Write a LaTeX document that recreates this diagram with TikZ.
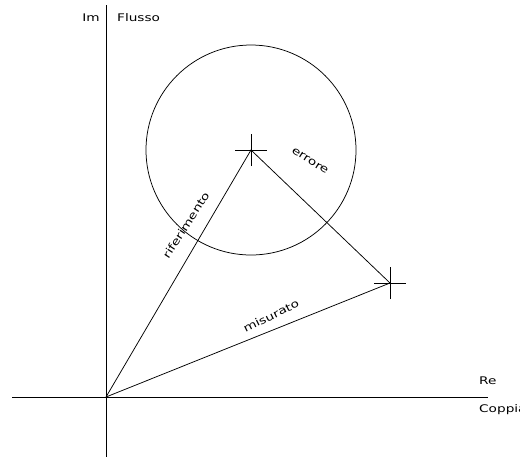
\documentclass[tikz,border=0pt]{standalone}
\usepackage{fontspec}
\newfontfamily\cad[FakeStretch=1.3]{DejaVu Sans}
\begin{document}
\begin{tikzpicture}[x=1pt,y=-1pt,
  ln/.style={line width=0.75pt,black},
  lbl/.style={font=\cad\fontsize{10.5}{12}\selectfont,inner sep=0pt}]
\useasboundingbox (0,0) rectangle (520,459);
% axes
\coordinate (O) at (106,397);
\coordinate (xl) at (12,397);
\coordinate (xr) at (488,397);
\coordinate (yt) at (106,5);
\coordinate (yb) at (106,457);
\draw[ln] (xl) -- (xr);
\draw[ln] (yt) -- (yb);
% points
\coordinate (R) at (251,150);
\coordinate (M) at (390,283);
\draw[ln] (R) circle[radius=105];
\draw[ln] (O) -- (R) -- (M) -- (O);
% crosses
\draw[ln] ([xshift=-16]R) -- ([xshift=16]R);
\draw[ln] ([yshift=-16]R) -- ([yshift=16]R);
\draw[ln] ([xshift=-16]M) -- ([xshift=16]M);
\draw[ln] ([yshift=-16]M) -- ([yshift=16]M);
% labels
\node[lbl] (im) at (91,18) {Im};
\node[lbl,anchor=west] (flusso) at (117,18) {Flusso};
\node[lbl,anchor=west] (re) at (479,381) {Re};
\node[lbl,anchor=west] (coppia) at (479,410) {Coppia};
\node[lbl,rotate=57] (rif) at (186,225) {riferimento};
\node[lbl,rotate=-32] (err) at (310,161) {errore};
\node[lbl,rotate=26] (mis) at (271,316) {misurato};
\end{tikzpicture}
\end{document}
